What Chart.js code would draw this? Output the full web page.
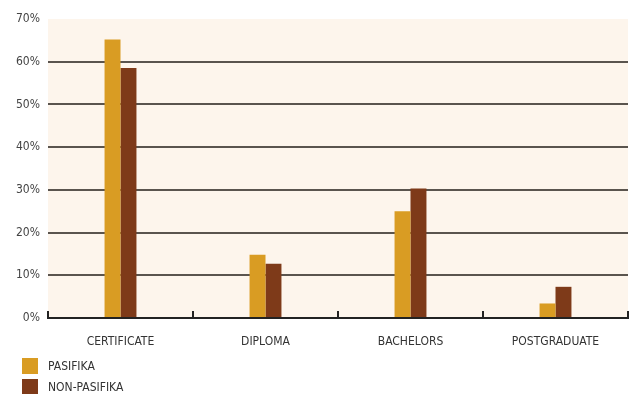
<!DOCTYPE html>
<html>
<head>
<meta charset="utf-8">
<script src="https://cdn.jsdelivr.net/npm/chart.js@4/dist/chart.umd.min.js"></script>
<style>
  html, body { margin: 0; padding: 0; background: #ffffff; }
  #wrap { width: 630px; height: 394px; position: relative; }
</style>
</head>
<body>
<div id="wrap"><canvas id="qualChart"></canvas></div>
<script>
const categories = ['CERTIFICATE', 'DIPLOMA', 'BACHELORS', 'POSTGRADUATE'];
const pasifika = [65.2, 14.8, 25.0, 3.4];
const nonPasifika = [58.5, 12.7, 30.3, 7.3];
const seriesNames = ['PASIFIKA', 'NON-PASIFIKA'];
const seriesColors = ['#d99c23', '#7e3a19'];

const FONT = "'Liberation Sans Narrow', 'DejaVu Sans Condensed', sans-serif";

// cream plot background + small upward ticks between categories
const plotDecor = {
    id: 'plotDecor',
    beforeDraw(chart) {
        const { ctx, chartArea: a } = chart;
        ctx.save();
        ctx.fillStyle = '#fdf5ec';
        ctx.fillRect(a.left, a.top, a.right - a.left, a.bottom - a.top);
        ctx.restore();
    },
    afterDraw(chart) {
        const { ctx, chartArea: a, scales } = chart;
        const x = scales.x;
        const step = x.width / categories.length;
        ctx.save();
        ctx.strokeStyle = '#222';
        ctx.lineWidth = 2;
        ctx.beginPath();
        for (let i = 0; i <= categories.length; i++) {
            const px = Math.round(x.left + i * step);
            ctx.moveTo(px, a.bottom);
            ctx.lineTo(px, a.bottom - 7);
        }
        ctx.stroke();
        ctx.restore();
    }
};

// stacked legend in the bottom-left corner
const stackedLegend = {
    id: 'stackedLegend',
    afterDraw(chart) {
        const { ctx } = chart;
        ctx.save();
        ctx.font = '12px ' + FONT;
        ctx.textBaseline = 'middle';
        chart.data.datasets.forEach((ds, i) => {
            const y = 358 + i * 21;
            ctx.fillStyle = ds.backgroundColor;
            ctx.fillRect(22, y, 16, 16);
            ctx.fillStyle = '#333';
            ctx.fillText(ds.label, 48, y + 9);
        });
        ctx.restore();
    }
};

new Chart(document.getElementById('qualChart'), {
    type: 'bar',
    data: {
        labels: categories,
        datasets: [
            { label: seriesNames[0], data: pasifika, backgroundColor: seriesColors[0] },
            { label: seriesNames[1], data: nonPasifika, backgroundColor: seriesColors[1] }
        ]
    },
    options: {
        responsive: true,
        maintainAspectRatio: false,
        animation: false,
        layout: { padding: { top: 19, right: 2, left: 0, bottom: 0 } },
        datasets: { bar: { categoryPercentage: 0.22, barPercentage: 1.0 } },
        plugins: {
            legend: { display: false },
            tooltip: { enabled: false }
        },
        scales: {
            x: {
                grid: { display: false },
                border: { display: true, color: '#222', width: 2 },
                ticks: { color: '#333', font: { family: FONT, size: 12 }, padding: 9 },
                afterFit: s => { s.height = 76; }
            },
            y: {
                min: 0,
                max: 70,
                ticks: {
                    stepSize: 10,
                    color: '#444',
                    padding: 8,
                    font: { family: FONT, size: 12 },
                    callback: v => v + '%'
                },
                grid: {
                    drawTicks: false,
                    lineWidth: 2,
                    color: c => (c.tick.value === 0 || c.tick.value === 70) ? 'rgba(0,0,0,0)' : '#5a544e'
                },
                border: { display: false },
                afterFit: s => { s.width = 48; }
            }
        }
    },
    plugins: [plotDecor, stackedLegend]
});
</script>
</body>
</html>
